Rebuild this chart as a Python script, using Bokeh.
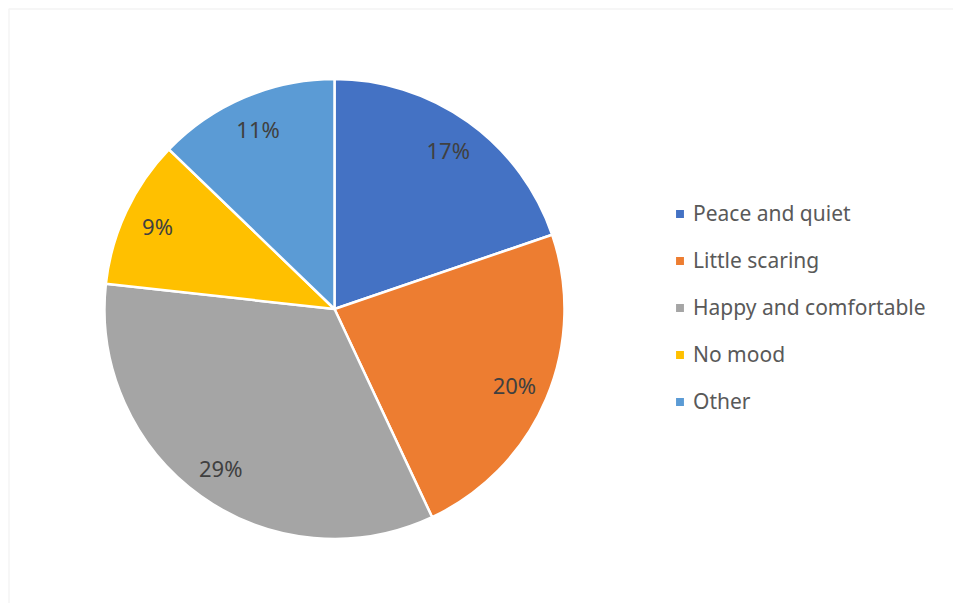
import numpy as np
from bokeh.plotting import figure
from bokeh.models import Range1d, ColumnDataSource, Legend, LegendItem, BoxAnnotation
from bokeh.core.properties import value
from bokeh.embed import file_html
from bokeh.resources import INLINE

categories = ["Peace and quiet", "Little scaring", "Happy and comfortable", "No mood", "Other"]
values = [17, 20, 29, 9, 11]
labels = ["17%", "20%", "29%", "9%", "11%"]
colors = ["#4472C4", "#ED7D31", "#A5A5A5", "#FFC000", "#5B9BD5"]

W, H = 953, 603
p = figure(width=W, height=H, output_backend="svg", toolbar_location=None,
           x_range=Range1d(0, W), y_range=Range1d(0, H), min_border=0)
p.axis.visible = False
p.grid.visible = False
p.outline_line_color = None
p.background_fill_color = "white"
p.border_fill_color = "white"

cx, cy, r = 334, 294.5, 230
vals = np.array(values, dtype=float)
frac = vals / vals.sum()
cum = np.concatenate([[0], np.cumsum(frac)])
start = np.pi / 2 - 2 * np.pi * cum[:-1]
end = np.pi / 2 - 2 * np.pi * cum[1:]
mid = (start + end) / 2

src = ColumnDataSource(dict(start=start, end=end, color=colors, cat=categories,
                            lx=cx + 0.85 * r * np.cos(mid), ly=cy + 0.85 * r * np.sin(mid),
                            lab=labels))
wr = p.wedge(x=cx, y=cy, radius=r, start_angle="start", end_angle="end", direction="clock",
             fill_color="color", line_color="white", line_width=2.5, source=src)
p.text(x="lx", y="ly", text="lab", source=src, text_align="center", text_baseline="middle",
       text_font=value("Noto Sans"), text_font_size="22px", text_color="#404040")

items = [LegendItem(label=name, renderers=[wr], index=i) for i, name in enumerate(categories)]
leg = Legend(items=items, location=(673, 188), glyph_width=13, glyph_height=13,
             label_text_font="Noto Sans", label_text_font_size="21px",
             label_text_color="#595959", spacing=19, padding=0, margin=0,
             border_line_color=None, background_fill_alpha=0, label_standoff=7)
p.add_layout(leg, "center")

p.add_layout(BoxAnnotation(left=8.5, right=5000, bottom=-5000, top=594.5,
                           fill_alpha=0, line_color="#d9d9d9", line_width=1.5))

open("out.html", "w").write(file_html(p, INLINE))
